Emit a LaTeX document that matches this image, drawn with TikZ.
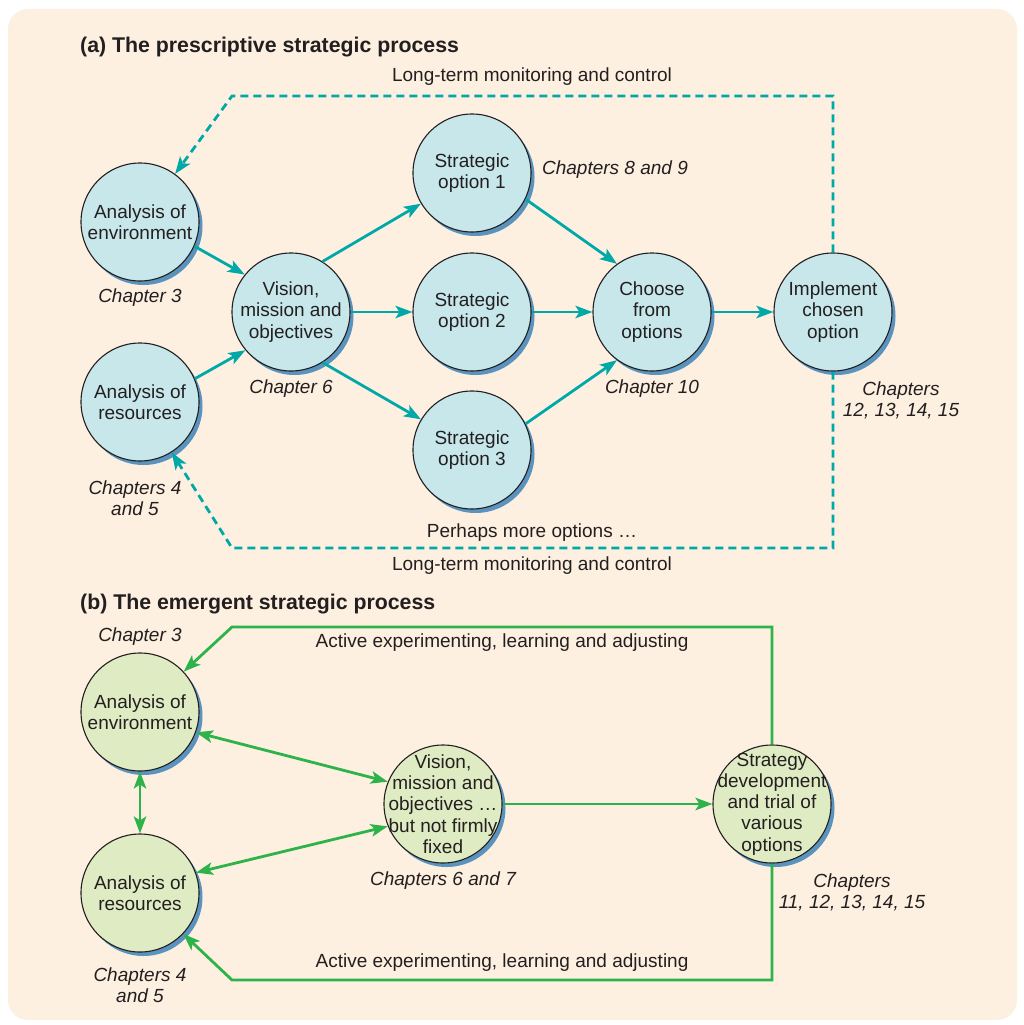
\documentclass[tikz,border=0pt]{standalone}
\usepackage{fontspec}
\setmainfont{Liberation Sans}
\usetikzlibrary{arrows.meta,shadows}

\definecolor{paper}{HTML}{FDF0E1}
\definecolor{ink}{HTML}{231F20}
\definecolor{teal}{HTML}{00A9A8}
\definecolor{leaf}{HTML}{2DB34A}
\definecolor{tealfill}{HTML}{C7E7EB}
\definecolor{leaffill}{HTML}{DFEBC2}
\definecolor{shadowblue}{HTML}{5A93BD}

\tikzset{
  bodyfont/.style={font=\fontsize{19}{21.3}\selectfont},
  bubble/.style={circle, draw=ink, line width=1.1pt, minimum size=118pt,
    inner sep=0pt, align=center, text=ink, bodyfont,
    drop shadow={shadow xshift=3.5pt, shadow yshift=-4pt, shadow scale=1,
      fill=shadowblue, opacity=1}},
  tealbubble/.style={bubble, fill=tealfill},
  leafbubble/.style={bubble, fill=leaffill},
  inside/.style={align=center, text=ink, inner sep=0pt, bodyfont},
  caption/.style={align=center, text=ink, inner sep=0pt,
    font=\fontsize{19}{21.3}\selectfont\itshape},
  note/.style={align=center, text=ink, inner sep=0pt, bodyfont},
  heading/.style={anchor=west, text=ink, inner sep=0pt,
    font=\fontsize{21.3}{24}\selectfont\bfseries},
  tealarrow/.style={draw=teal, line width=2.8pt, ->},
  feedback/.style={tealarrow, dash pattern=on 8pt off 5pt, line join=miter},
  leafarrow/.style={draw=leaf, line width=2.8pt, ->},
  leafboth/.style={draw=leaf, line width=2.8pt, <->},
}

\begin{document}
\begin{tikzpicture}[x=1pt,y=-1pt,
    >={Stealth[length=17pt,width=12.5pt,inset=4pt]}]
  % page and panel
  \fill[white] (0,0) rectangle (1024,1025);
  \useasboundingbox (0,0) rectangle (1024,1025);
  \fill[paper, rounded corners=20pt] (8,9) rectangle (1017,1020);

  % ---------- (a) prescriptive process ----------
  \node[heading] (ta) at (80,47) {(a) The prescriptive strategic process};

  \node[tealbubble] (env)    at (140,222) {Analysis of\\environment};
  \node[tealbubble] (res)    at (140,402) {Analysis of\\resources};
  \node[tealbubble] (vis)    at (291,312) {Vision,\\mission and\\objectives};
  \node[tealbubble] (opt1)   at (472,173) {Strategic\\option 1};
  \node[tealbubble] (opt2)   at (472,312) {Strategic\\option 2};
  \node[tealbubble] (opt3)   at (472,450) {Strategic\\option 3};
  \node[tealbubble] (choose) at (652,312) {Choose\\from\\options};
  \node[tealbubble] (impl)   at (833,312) {Implement\\chosen\\option};

  \node[caption] (c3)   at (140,298) {Chapter 3};
  \node[caption] (c45)  at (135,498) {Chapters 4\\and 5};
  \node[caption] (c6)   at (291,389) {Chapter 6};
  \node[caption] (c89)  at (615,170) {Chapters 8 and 9};
  \node[caption] (c10)  at (652,389) {Chapter 10};
  \node[caption] (c12)  at (901,400) {Chapters\\12, 13, 14, 15};

  \node[note] (ltop)  at (532,77)  {Long-term monitoring and control};
  \node[note] (more)  at (532,533) {Perhaps more options \dots};
  \node[note] (lbot)  at (532,566) {Long-term monitoring and control};

  \draw[tealarrow] (env.-24)  -- (vis.141);
  \draw[tealarrow] (res.23)   -- (vis.-140);
  \draw[tealarrow] (vis.58)   -- (opt1.211);
  \draw[tealarrow] (vis.east) -- (opt2.west);
  \draw[tealarrow] (vis.-58)  -- (opt3.149);
  \draw[tealarrow] (opt1.-26) -- (choose.126);
  \draw[tealarrow] (opt2.east) -- (choose.west);
  \draw[tealarrow] (opt3.26)  -- (choose.-126);
  \draw[tealarrow] (choose.east) -- (impl.west);

  \coordinate (ctop) at (232,96);
  \coordinate (cbot) at (232,548);
  \draw[feedback] (impl.north) |- (ctop) -- (env);
  \draw[feedback] (impl.south) |- (cbot) -- (res);

  % ---------- (b) emergent process ----------
  \node[heading] (tb) at (80,604) {(b) The emergent strategic process};

  \node[leafbubble] (envb)  at (140,712) {Analysis of\\environment};
  \node[leafbubble] (resb)  at (140,893) {Analysis of\\resources};
  % five-line texts are set over fixed-size circles
  \node[leafbubble] (visb)  at (443,804) {};
  \node[inside] (visbtext) at (visb) {Vision,\\mission and\\objectives \dots\\but not firmly\\fixed};
  \node[leafbubble] (strat) at (772,804) {};
  \node[inside] (strattext) at (strat) {Strategy\\development\\and trial of\\various\\options};

  \node[caption] (b3)   at (140,637) {Chapter 3};
  \node[caption] (b45)  at (140,985) {Chapters 4\\and 5};
  \node[caption] (b67)  at (443,881) {Chapters 6 and 7};
  \node[caption] (b11)  at (852,892) {Chapters\\11, 12, 13, 14, 15};

  \node[note] (atop) at (502,643) {Active experimenting, learning and adjusting};
  \node[note] (abot) at (502,963) {Active experimenting, learning and adjusting};

  \draw[leafboth] (envb) -- (resb);
  \draw[leafboth] (envb.-20) -- (visb.158);
  \draw[leafboth] (resb.20)  -- (visb.-158);
  \draw[leafarrow] (visb.east) -- (strat.west);

  \coordinate (gtop) at (232,627);
  \coordinate (gbot) at (232,980);
  \draw[leafarrow, line join=miter] (strat.north) |- (gtop) -- (envb);
  \draw[leafarrow, line join=miter] (strat.south) |- (gbot) -- (resb);
\end{tikzpicture}
\end{document}
